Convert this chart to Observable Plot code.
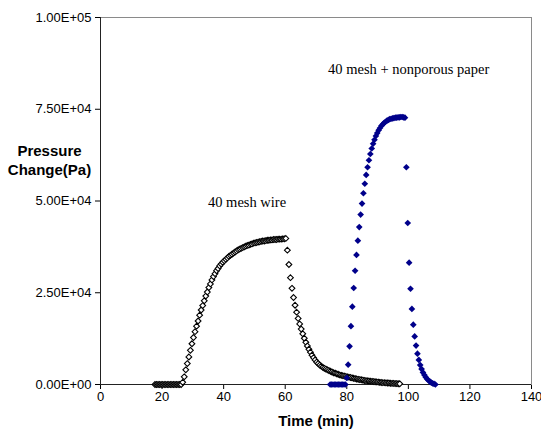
<!DOCTYPE html>
<html>
<head>
<meta charset="utf-8">
<script src="https://cdn.jsdelivr.net/npm/d3@7"></script>
<script src="https://cdn.jsdelivr.net/npm/@observablehq/plot@0.6"></script>
<style>
  html, body { margin: 0; padding: 0; background: #fff; }
</style>
</head>
<body>
<div id="chart"></div>
<script>
// ---- data ----
// 40 mesh wire: sampled every 0.5 min starting at 17.7 min (Pa)
const wireStart = 17.7;
const wireStep = 0.5;
const wireValues = [
  0,0,0,0,0,0,0,0,0,0,0,0,0,0,0,0,0,0,
  600,2100,4000,5700,7500,9300,11100,12800,14400,15900,
  17300,18900,20300,21500,22800,24100,25200,26400,27400,28500,
  29400,30200,31000,31600,32300,32800,33300,33700,34100,34500,
  34900,35200,35500,35800,36100,36400,36700,36900,37100,37300,
  37500,37700,37900,38000,38200,38300,38500,38600,38700,38800,
  38900,39000,39100,39100,39200,39300,39300,39400,39400,39500,
  39500,39500,39600,39600,39600,39700,39700,39800,
  36600,32700,29100,26200,23700,21600,19700,18000,16500,15100,
  13800,12600,11500,10500,9600,8800,8000,7300,6700,6100,
  5700,5300,5000,4700,4400,4200,4000,3800,3600,3400,
  3200,3100,2900,2800,2600,2500,2400,2300,2200,2100,
  2000,1900,1800,1700,1600,1500,1400,1350,1300,1200,
  1100,1050,1000,950,900,850,800,750,700,650,
  600,550,500,500,450,400,400,350,300,300,
  250,250,200,200
];
// 40 mesh + nonporous paper: sampled every 0.45 min starting at 74.6 min (Pa)
const paperStart = 74.6;
const paperStep = 0.45;
const paperValues = [
  0,0,0,0,0,0,0,0,0,0,0,0,
  1800,5400,10400,15900,21200,26300,31000,35300,39200,42900,
  46300,49300,52100,54700,57100,59200,61100,62800,64300,65600,
  66700,67700,68500,69300,69900,70500,70900,71300,71600,71900,
  72100,72300,72400,72500,72600,72700,72700,72800,72800,72900,
  72900,72800,72700,
  59200,44000,33200,26100,20600,16300,13100,10600,8400,6700,
  5300,4200,3300,2600,2000,1500,1100,800,500,300,150,0
];
const xTicks = [0, 20, 40, 60, 80, 100, 120, 140];
const yTicks = [0, 25000, 50000, 75000, 100000];
const noteTexts = ["40 mesh wire", "40 mesh + nonporous paper"];
const noteX = [47.6, 100.1];
const noteY = [49500, 85800];

// ---- build tables ----
const wire = wireValues.map((p, i) => ({t: wireStart + i * wireStep, p}));
const paper = paperValues.map((p, i) => ({t: paperStart + i * paperStep, p}));
const notes = noteTexts.map((text, i) => ({text, x: noteX[i], y: noteY[i]}));

function fmtE(d) {
  if (d === 0) return "0.00E+00";
  const e = Math.floor(Math.log10(Math.abs(d)));
  const m = d / Math.pow(10, e);
  return m.toFixed(2) + "E" + (e < 0 ? "-" : "+") + String(Math.abs(e)).padStart(2, "0");
}

const chart = Plot.plot({
  width: 541,
  height: 435,
  marginLeft: 100,
  marginRight: 10,
  marginTop: 17,
  marginBottom: 51,
  style: {
    fontFamily: "'Liberation Sans', Arial, sans-serif",
    fontSize: "13px",
    background: "#fff",
    color: "#000",
    overflow: "visible"
  },
  x: {domain: [0, 140], ticks: xTicks, tickSize: 5, tickPadding: 2, label: null},
  y: {domain: [0, 100000], ticks: yTicks, tickSize: 5, tickPadding: 4, tickFormat: fmtE, label: null},
  marks: [
    Plot.frame({stroke: "#8a8a8a"}),
    Plot.ruleX([0], {stroke: "#222"}),
    Plot.ruleY([0], {stroke: "#222"}),
    Plot.dot(wire, {x: "t", y: "p", symbol: "diamond2", r: 2.6, stroke: "#000", fill: "#fff", strokeWidth: 1.1}),
    Plot.dot(paper, {x: "t", y: "p", symbol: "diamond2", r: 3, fill: "#00008b", stroke: "none"}),
    Plot.text(notes, {x: "x", y: "y", text: "text", fontFamily: "'Liberation Serif', 'Times New Roman', serif", fontSize: 14.5, fill: "#000", textAnchor: "middle"}),
    Plot.text(["Time (min)"], {text: d => d, frameAnchor: "bottom", dy: 41, fontWeight: "bold", fontSize: 15, fill: "#000"}),
    Plot.text(["Pressure\nChange(Pa)"], {text: d => d, frameAnchor: "left", dx: -51, dy: -42, textAnchor: "middle", fontWeight: "bold", fontSize: 15, lineHeight: 1.3, fill: "#000"})
  ]
});
document.getElementById("chart").appendChild(chart);
</script>
</body>
</html>
